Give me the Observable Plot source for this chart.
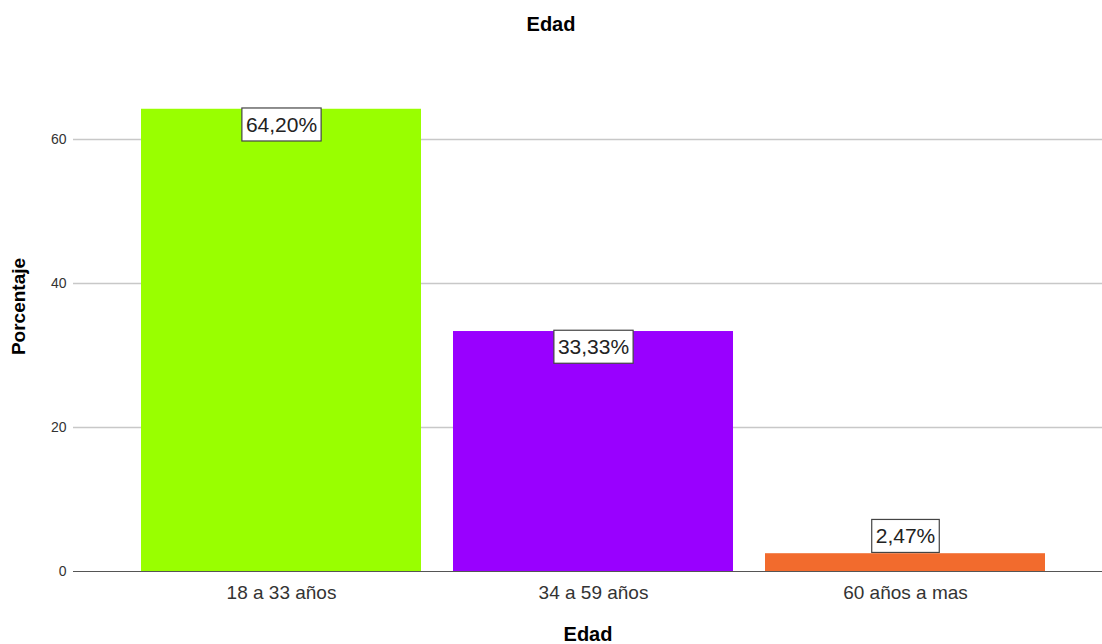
<!DOCTYPE html>
<html><head><meta charset="utf-8">
<script src="https://cdn.jsdelivr.net/npm/d3@7"></script>
<script src="https://cdn.jsdelivr.net/npm/@observablehq/plot@0.6"></script>
<style>
body{margin:0;background:#fff;font-family:"Liberation Sans",Arial,sans-serif;}
#title{height:50px;line-height:48px;text-align:center;font-weight:bold;font-size:20px;color:#000;}
#chart svg{display:block;}
</style></head><body>
<div id="title">Edad</div>
<div id="chart"></div>
<script>
const categories = ["18 a 33 años", "34 a 59 años", "60 años a mas"];
const values = [64.20, 33.33, 2.47];
const valueLabels = ["64,20%", "33,33%", "2,47%"];
const colors = ["#99ff00", "#9900ff", "#f26b2d"];
const yTicks = [0, 20, 40, 60];
const gridTicks = [20, 40, 60];
const xTitle = "Edad";
const yTitle = "Porcentaje";

const data = categories.map((c, i) => ({cat: c, value: values[i], label: valueLabels[i]}));

const chart = Plot.plot({
  width: 1102,
  height: 594,
  marginLeft: 73,
  marginRight: 0,
  marginTop: 17,
  marginBottom: 73,
  style: {fontFamily: '"Liberation Sans", Arial, sans-serif', background: "#fff", color: "#333"},
  x: {domain: categories, range: [73, 1113], paddingInner: 0.104, paddingOuter: 0.216, label: null},
  y: {domain: [0, 70], label: null},
  color: {domain: categories, range: colors},
  marks: [
    Plot.ruleY(gridTicks, {stroke: "#c8c8c8", strokeWidth: 1.5}),
    Plot.barY(data, {x: "cat", y: "value", fill: "cat"}),
    Plot.ruleY([0], {stroke: "#555", strokeWidth: 1}),
    Plot.axisY(yTicks, {tickSize: 0, tickPadding: 7, fontSize: 14, fill: "#333", label: null}),
    Plot.axisX({tickSize: 0, tickPadding: 14, fontSize: 19, fill: "#333", label: null}),
    Plot.text(data.filter(d => d.value > 10), {x: "cat", y: "value", text: "label", dy: 16, fontSize: 21, fill: "#222", className: "vlabel"}),
    Plot.text(data.filter(d => d.value <= 10), {x: "cat", y: "value", text: "label", dy: -17, fontSize: 21, fill: "#222", className: "vlabel"}),
    Plot.text([xTitle], {frameAnchor: "bottom", dy: 69, fontSize: 20, fontWeight: "bold", fill: "#000"}),
    Plot.text([yTitle], {frameAnchor: "left", textAnchor: "middle", dx: -55, dy: -13, rotate: -90, fontSize: 19, fontWeight: "bold", fill: "#000"})
  ]
});
document.getElementById("chart").appendChild(chart);

d3.select(chart).selectAll("g.vlabel text").each(function() {
  const b = this.getBBox();
  const padX = 4, padY = 5;
  d3.select(this.parentNode).insert("rect", () => this)
    .attr("transform", this.getAttribute("transform"))
    .attr("x", b.x - padX).attr("y", b.y - padY)
    .attr("width", b.width + 2 * padX).attr("height", b.height + 2 * padY)
    .attr("fill", "#fff").attr("stroke", "#444").attr("stroke-width", 1.2);
});
</script>
</body></html>
